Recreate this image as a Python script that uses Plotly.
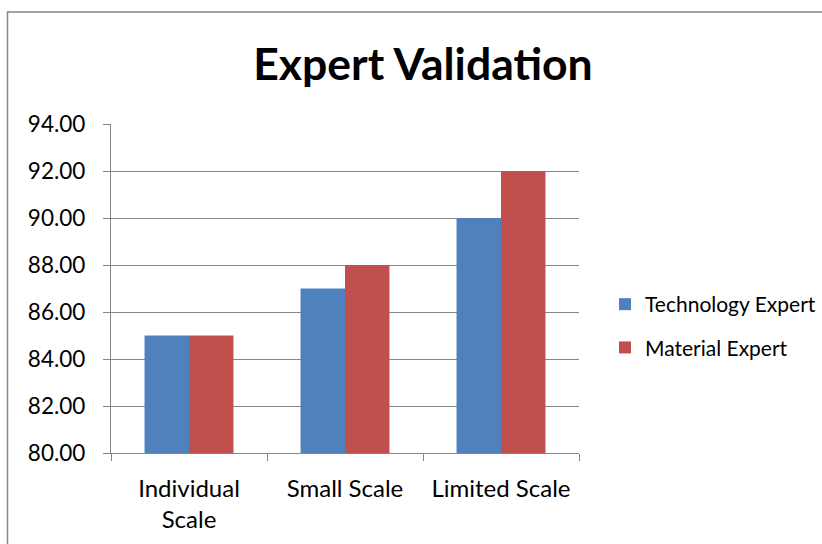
import plotly.graph_objects as go

categories = ["Individual<br>Scale", "Small Scale", "Limited Scale"]
technology_expert = [85, 87, 90]
material_expert = [85, 88, 92]
series_names = ["Technology Expert", "Material Expert"]
y_ticks = [80, 82, 84, 86, 88, 90, 92, 94]

FONT = "Lato, Open Sans, sans-serif"
AXIS = "#868686"

W, H = 822, 544
L, R, T, B = 111, 243, 124, 91
PW, PH = W - L - R, H - T - B

fig = go.Figure()
fig.add_trace(go.Bar(x=categories, y=technology_expert, name=series_names[0],
                     marker=dict(color="#4F81BD", line=dict(width=0)), legendgroup="a"))
fig.add_trace(go.Bar(x=categories, y=material_expert, name=series_names[1],
                     marker=dict(color="#C0504D", line=dict(width=0)), legendgroup="b"))

fig.update_layout(
    width=W, height=H, autosize=False,
    margin=dict(l=L, r=R, t=T, b=B, autoexpand=False),
    paper_bgcolor="white", plot_bgcolor="white",
    barmode="group", bargap=0.43, bargroupgap=0,
    font=dict(family=FONT, color="black", size=24),
    title=dict(text="<b>Expert Validation</b>", x=423 / W, xanchor="center",
               y=1 - 64 / H, yanchor="middle", yref="container",
               font=dict(family=FONT, size=44.5, color="black")),
    showlegend=True,
    legend=dict(x=(605 - L) / PW, xanchor="left", y=(453 - 326) / PH, yanchor="middle",
                traceorder="grouped", tracegroupgap=13,
                font=dict(family=FONT, size=21, color="black"),
                bgcolor="rgba(0,0,0,0)"),
    xaxis=dict(showline=True, linecolor=AXIS, linewidth=1.3, ticks="outside",
               tickson="boundaries", ticklen=7, tickcolor=AXIS, tickwidth=1.3,
               showgrid=False, tickfont=dict(size=24), ticklabelstandoff=14,
               fixedrange=True),
    yaxis=dict(range=[80, 94], tickvals=y_ticks,
               ticktext=[f"{v:.2f}" for v in y_ticks],
               showline=True, linecolor=AXIS, linewidth=1.3, ticks="outside",
               ticklen=7, tickcolor=AXIS, tickwidth=1.3,
               showgrid=True, gridcolor=AXIS, gridwidth=1.3, zeroline=False,
               tickfont=dict(size=22.5), ticklabelstandoff=13, fixedrange=True),
    shapes=[dict(type="rect", xref="paper", yref="paper",
                 x0=(7.5 - L) / PW, x1=(W + 20 - L) / PW,
                 y0=-(B + 20) / PH, y1=(PH + T - 12) / PH,
                 line=dict(color="#868686", width=1.5), fillcolor="rgba(0,0,0,0)",
                 layer="below")],
)

fig.write_html("out.html",
               config={"responsive": False, "displayModeBar": False},
               post_script="document.body.style.margin='0';document.body.style.overflow='hidden';")
